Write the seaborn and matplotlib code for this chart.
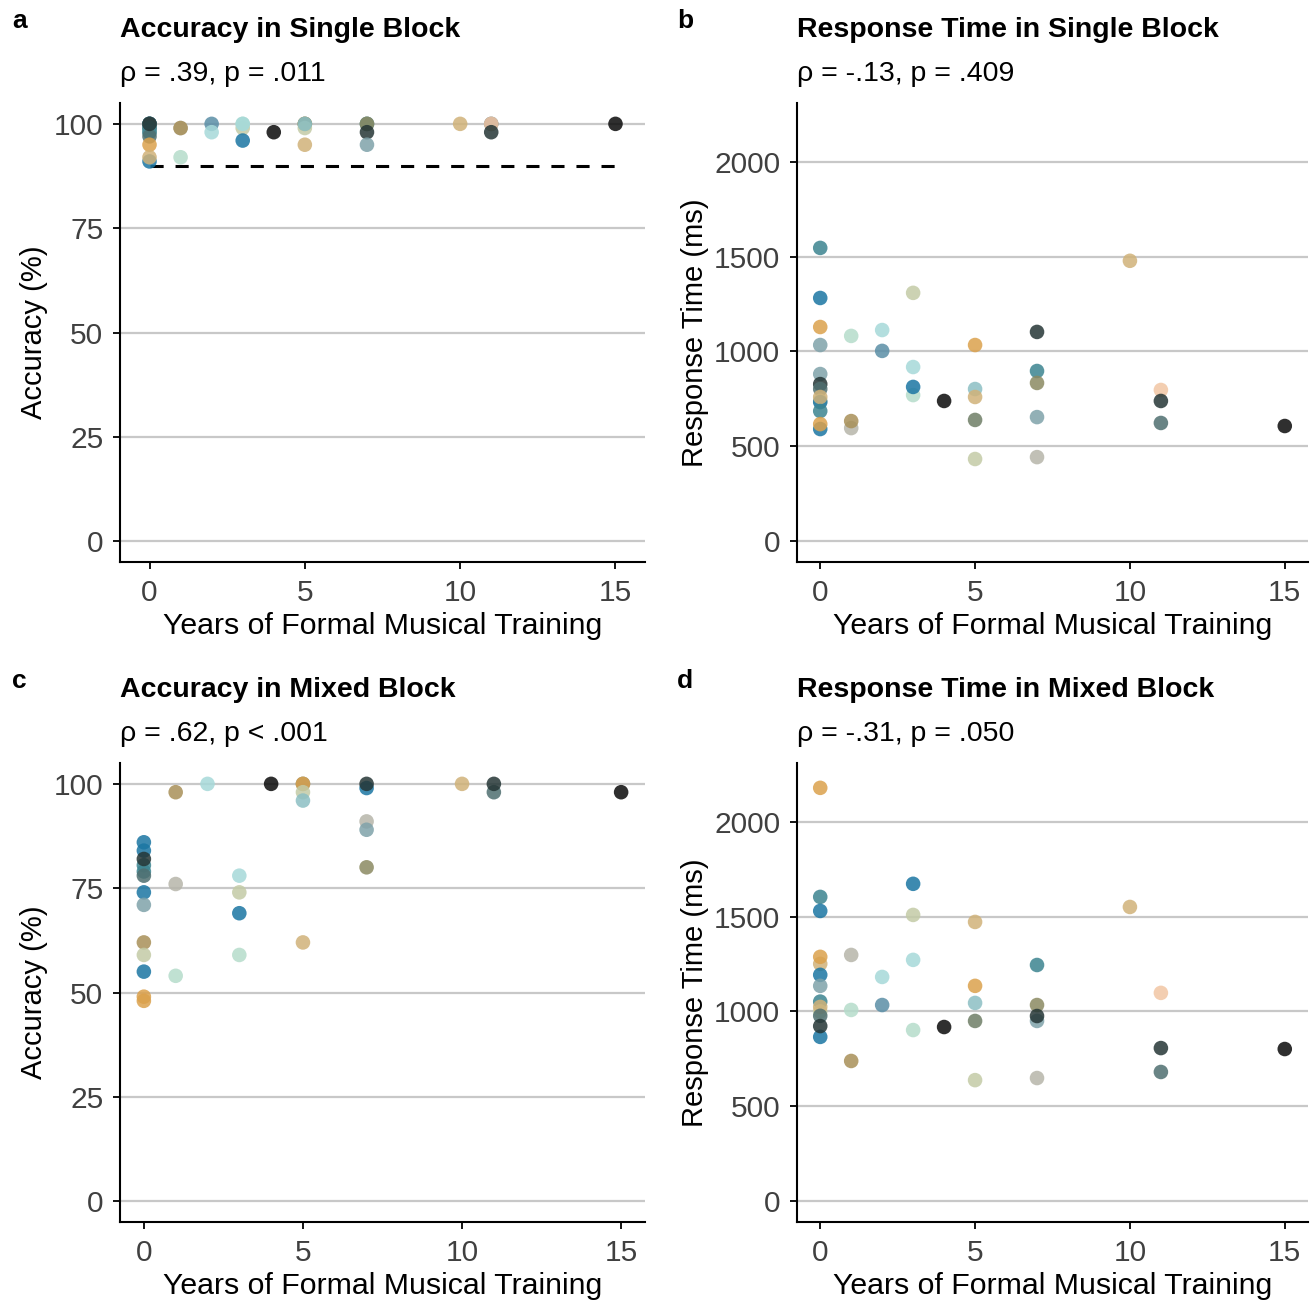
# Years of musical training vs accuracy / response time, four panels
import matplotlib
matplotlib.use("Agg")
import matplotlib.pyplot as plt
import seaborn as sns
import pandas as pd

# colour of each participant group
palette = {
    "blue": "#1b76a3", "bluegrey": "#5a8ea6", "teal": "#3c8490", "slate": "#4f6f70",
    "dark": "#253636", "black": "#0a0a0a", "greyblue": "#7fa2aa", "lightteal": "#8cbfc3",
    "cyan": "#a6d9d9", "mint": "#b5dccb", "sage": "#c3cba6", "tan": "#d0b279",
    "orange": "#dba14c", "olive": "#8b8a62", "brown": "#a89058", "grey": "#b6b5aa",
    "peach": "#f2c6a4", "ogreen": "#6f7e66",
}

# panel a: accuracy, single block
acc_single_years = [0, 0, 0, 0, 0, 0, 0, 0, 0, 0, 0, 0, 0,
                    1, 1, 1, 2, 2, 3, 3, 3, 3, 4,
                    5, 5, 5, 5, 5, 7, 7, 7, 7, 7, 10, 11, 11, 11, 15]
acc_single_vals = [100, 100, 100, 100, 99, 99, 98, 98, 97, 91, 95, 92, 100,
                   99, 99, 92, 100, 98, 99, 100, 100, 96, 98,
                   100, 100, 99, 100, 95, 100, 100, 100, 98, 95, 100, 100, 100, 98, 100]
acc_single_cols = ["blue", "greyblue", "teal", "slate", "slate", "teal", "greyblue", "teal", "slate",
                   "blue", "orange", "tan", "dark",
                   "grey", "brown", "mint", "bluegrey", "cyan", "sage", "mint", "cyan", "blue", "black",
                   "orange", "ogreen", "sage", "lightteal", "tan", "grey", "teal", "olive", "dark",
                   "greyblue", "tan", "slate", "peach", "dark", "black"]

# panel b: response time, single block
rt_single_years = [0, 0, 0, 0, 0, 0, 0, 0, 0, 0, 0, 0, 0,
                   1, 1, 1, 2, 2, 3, 3, 3, 3, 4,
                   5, 5, 5, 5, 5, 7, 7, 7, 7, 7, 10, 11, 11, 11, 15]
rt_single_vals = [1546, 1282, 1129, 1034, 881, 828, 802, 740, 733, 760, 686, 591, 617,
                  1082, 596, 633, 1113, 1003, 1309, 918, 770, 813, 739,
                  1034, 802, 760, 639, 433, 1103, 897, 834, 654, 443, 1478, 797, 739, 623, 607]
rt_single_cols = ["teal", "blue", "orange", "greyblue", "greyblue", "dark", "slate", "sage", "blue",
                  "tan", "teal", "blue", "orange",
                  "mint", "grey", "brown", "cyan", "bluegrey", "sage", "cyan", "mint", "blue", "black",
                  "orange", "lightteal", "tan", "ogreen", "sage", "dark", "teal", "olive", "greyblue",
                  "grey", "tan", "peach", "dark", "slate", "black"]

# panel c: accuracy, mixed block
acc_mixed_years = [0, 0, 0, 0, 0, 0, 0, 0, 0, 0, 0, 0, 0,
                   1, 1, 1, 2, 3, 3, 3, 3, 4,
                   5, 5, 5, 5, 5, 7, 7, 7, 7, 7, 10, 11, 11, 15]
acc_mixed_vals = [86, 84, 80.5, 79, 78, 82, 74, 71, 62, 59, 55, 49, 48,
                  98, 76, 54, 100, 78, 74, 69, 59, 100,
                  100, 100, 98, 96, 62, 99, 100, 91, 89, 80, 100, 98, 100, 98]
acc_mixed_cols = ["blue", "blue", "teal", "teal", "slate", "dark", "blue", "greyblue", "brown",
                  "sage", "blue", "orange", "orange",
                  "brown", "grey", "mint", "cyan", "cyan", "sage", "blue", "mint", "black",
                  "ogreen", "orange", "sage", "lightteal", "tan", "blue", "dark", "grey", "greyblue",
                  "olive", "tan", "slate", "dark", "black"]

# panel d: response time, mixed block
rt_mixed_years = [0, 0, 0, 0, 0, 0, 0, 0, 0, 0, 0, 0, 0,
                  1, 1, 1, 2, 2, 3, 3, 3, 3, 4,
                  5, 5, 5, 5, 5, 7, 7, 7, 7, 7, 10, 11, 11, 11, 15]
rt_mixed_vals = [2179, 1604, 1530, 1251, 1288, 1193, 1135, 1052, 1000, 1024, 977, 866, 923,
                 1298, 1008, 739, 1182, 1034, 1673, 1509, 1272, 902, 918,
                 1472, 1135, 1045, 950, 638, 1245, 1034, 950, 976, 649, 1551, 1098, 807, 681, 802]
rt_mixed_cols = ["orange", "teal", "blue", "tan", "orange", "blue", "greyblue", "teal", "sage",
                 "tan", "slate", "blue", "dark",
                 "grey", "mint", "brown", "cyan", "bluegrey", "blue", "sage", "cyan", "mint", "black",
                 "tan", "orange", "lightteal", "ogreen", "sage", "teal", "olive", "greyblue", "dark",
                 "grey", "tan", "peach", "dark", "slate", "black"]

titles = ["Accuracy in Single Block", "Response Time in Single Block",
          "Accuracy in Mixed Block", "Response Time in Mixed Block"]
subtitles = ["\u03c1 = .39, p = .011", "\u03c1 = -.13, p = .409",
             "\u03c1 = .62, p < .001", "\u03c1 = -.31, p = .050"]
letters = ["a", "b", "c", "d"]
ylabels = ["Accuracy (%)", "Response Time (ms)", "Accuracy (%)", "Response Time (ms)"]

sns.set_style("white")
plt.rcParams["font.family"] = ["Liberation Sans", "DejaVu Sans"]
plt.rcParams["text.color"] = "black"
plt.rcParams["axes.labelcolor"] = "black"

W, H = 1314, 1302
fig = plt.figure(figsize=(W / 100, H / 100), dpi=100)

# axes boxes in pixels: left, top, right, bottom
boxes = [(120, 103, 645, 562), (797, 103, 1308, 562),
         (120, 763, 645, 1222), (797, 763, 1308, 1222)]

panels = [
    (acc_single_years, acc_single_vals, acc_single_cols),
    (rt_single_years, rt_single_vals, rt_single_cols),
    (acc_mixed_years, acc_mixed_vals, acc_mixed_cols),
    (rt_mixed_years, rt_mixed_vals, rt_mixed_cols),
]
xlims = [(-0.95, 15.95), (-0.75, 15.75), (-0.75, 15.75), (-0.75, 15.75)]

for i, (years, vals, cols) in enumerate(panels):
    l, t, r, b = boxes[i]
    ax = fig.add_axes([l / W, 1 - b / H, (r - l) / W, (b - t) / H])
    df = pd.DataFrame({"years": years, "value": vals, "col": cols})

    is_acc = i in (0, 2)
    if is_acc:
        yticks = [0, 25, 50, 75, 100]
        ax.set_ylim(-5, 105)
    else:
        yticks = [0, 500, 1000, 1500, 2000]
        ax.set_ylim(-110, 2310)
    for yt in yticks:
        ax.axhline(yt, color="#c8c8c8", lw=1.6, zorder=0)

    if i == 0:
        ax.plot([0, 15], [90, 90], color="black", lw=2.2, ls=(0, (4.3, 3.9)), zorder=1)

    sns.scatterplot(data=df, x="years", y="value", hue="col", palette=palette,
                    s=110, alpha=0.85, edgecolor="none", legend=False, ax=ax, zorder=2)

    ax.set_xlim(*xlims[i])
    ax.set_xticks([0, 5, 10, 15])
    ax.set_yticks(yticks)
    ax.tick_params(axis="both", labelsize=21.5, labelcolor="#404040", color="black",
                   length=5, width=1.3, direction="out", left=True, bottom=True)
    ax.tick_params(axis="y", pad=7)
    ax.tick_params(axis="x", pad=7)
    ax.set_xlabel("Years of Formal Musical Training", fontsize=21.8, labelpad=4)
    ax.set_ylabel(ylabels[i], fontsize=21, labelpad=4)
    for side in ["top", "right"]:
        ax.spines[side].set_visible(False)
    for side in ["left", "bottom"]:
        ax.spines[side].set_color("black")
        ax.spines[side].set_linewidth(1.5)

    fig.text(l / W, 1 - (t - 73) / H, titles[i], fontsize=20.5, fontweight="bold",
             ha="left", va="center")
    fig.text(l / W, 1 - (t - 29) / H, subtitles[i], fontsize=20.5, ha="left", va="center")
    fig.text((l - 108) / W if l < 400 else (l - 120) / W, 1 - (t - 82) / H, letters[i],
             fontsize=19, fontweight="bold", ha="left", va="center")

fig.savefig("out.png", dpi=100)
